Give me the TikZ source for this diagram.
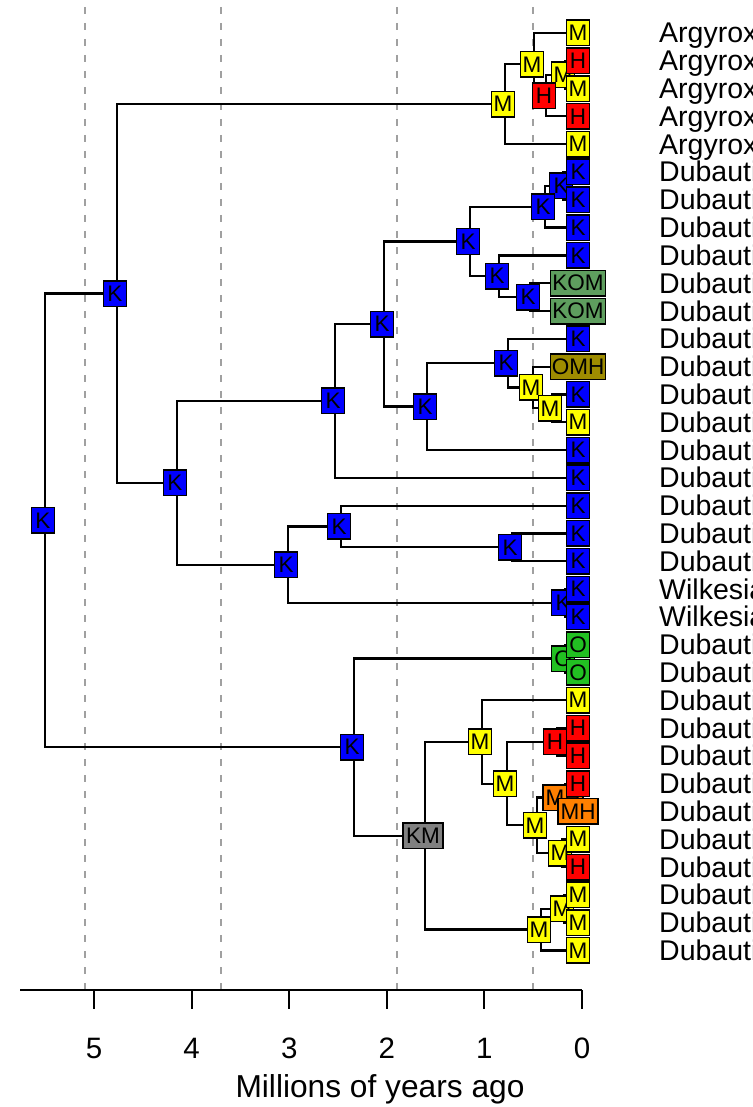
\documentclass[tikz,border=0pt]{standalone}
\usepackage{fontspec}
\setmainfont{Liberation Sans}
\definecolor{cK}{RGB}{0,0,255}
\definecolor{cM}{RGB}{255,255,0}
\definecolor{cH}{RGB}{255,0,0}
\definecolor{cO}{RGB}{34,192,34}
\definecolor{cKOM}{RGB}{94,158,94}
\definecolor{cOMH}{RGB}{158,140,0}
\definecolor{cMH}{RGB}{255,128,0}
\definecolor{cKM}{RGB}{128,128,128}
\definecolor{dashgrey}{RGB}{160,160,160}
\newcommand\stfont{\fontsize{22.5}{23}\selectfont}
\newcommand\namefont{\fontsize{28.5}{30}\selectfont}
\newcommand\axfont{\fontsize{29.5}{30}\selectfont}
\newcommand\titlefont{\fontsize{31.7}{33}\selectfont}
\begin{document}
\begin{tikzpicture}[x=1pt,y=-1pt,
  edge/.style={line width=2.2pt, line cap=round, line join=miter},
  stbox/.style={draw=black, line width=1.5pt, inner sep=0pt,
    minimum height=25.5pt, font=\stfont, text=black},
  island/.style={dashgrey, line width=2pt, dash pattern=on 7pt off 9pt, dash phase=9pt},
  axisline/.style={line width=2pt}]
\useasboundingbox (0,0) rectangle (752,1107);

% island ages (Kauai, Oahu, Maui, Hawaii)
\foreach \xx in {85,221,397,533}
  \draw[island] (\xx,0) -- (\xx,990);

% tips
\foreach \i in {0,...,33}
  \coordinate (t\i) at (582,{33+27.8*\i});

% internal nodes
\coordinate (R)   at (45,520.3);
\coordinate (A)   at (117,293.5);
\coordinate (a1)  at (505,104.25);
\coordinate (a2)  at (534,64.3);
\coordinate (a3)  at (546,95.55);
\coordinate (a4)  at (565,74.7);
\coordinate (B)   at (177,482.8);
\coordinate (C)   at (335,400.9);
\coordinate (E)   at (384,324.0);
\coordinate (F)   at (470,241.5);
\coordinate (F1)  at (545,206.75);
\coordinate (F1a) at (563,185.9);
\coordinate (F2)  at (499,276.25);
\coordinate (F3)  at (530,297.1);
\coordinate (G)   at (427,406.55);
\coordinate (H1)  at (508,363.1);
\coordinate (H2)  at (533,387.45);
\coordinate (H3)  at (552,408.3);
\coordinate (D)   at (288,564.7);
\coordinate (D1)  at (341,526.45);
\coordinate (D3)  at (512,547.3);
\coordinate (D2)  at (565,602.9);
\coordinate (L)   at (354,747.1);
\coordinate (O)   at (565,658.5);
\coordinate (KM)  at (425,835.7);
\coordinate (M1)  at (482,741.9);
\coordinate (M2)  at (507,783.6);
\coordinate (Hn)  at (557,741.9);
\coordinate (M3)  at (537,825.3);
\coordinate (Or)  at (565,797.5);
\coordinate (M4)  at (562,853.1);
\coordinate (M5)  at (541,929.55);
\coordinate (M6)  at (564,908.7);

% branches
\foreach \p/\c in {R/A, R/L, A/a1, A/B, a1/a2, a1/t4, a2/t0, a2/a3, a3/a4, a3/t3,
    a4/t1, a4/t2, B/C, B/D, C/E, C/t16, E/F, E/G, F/F1, F/F2, F1/F1a, F1/t7,
    F1a/t5, F1a/t6, F2/t8, F2/F3, F3/t9, F3/t10, G/H1, G/t15, H1/t11, H1/H2,
    H2/t12, H2/H3, H3/t13, H3/t14, D/D1, D/D2, D1/t17, D1/D3, D3/t18, D3/t19,
    D2/t20, D2/t21, L/O, L/KM, O/t22, O/t23, KM/M1, KM/M5, M1/t24, M1/M2,
    M2/Hn, M2/M3, Hn/t25, Hn/t26, M3/Or, M3/M4, Or/t27, Or/t28, M4/t29, M4/t30,
    M5/M6, M5/t33, M6/t31, M6/t32}
  \draw[edge] (\p) |- (\c);

% ancestral states
\foreach \n/\s/\c/\w in {R/K/cK/23pt, A/K/cK/23pt, a1/M/cM/23pt, a2/M/cM/23pt,
    a4/M/cM/23pt, a3/H/cH/23pt, B/K/cK/23pt, C/K/cK/23pt, E/K/cK/23pt,
    F/K/cK/23pt, F1a/K/cK/23pt, F1/K/cK/23pt, F2/K/cK/23pt, F3/K/cK/23pt,
    G/K/cK/23pt, H1/K/cK/23pt, H2/M/cM/23pt, H3/M/cM/23pt, D/K/cK/23pt,
    D1/K/cK/23pt, D3/K/cK/23pt, D2/K/cK/23pt, L/K/cK/23pt, O/O/cO/23pt,
    KM/KM/cKM/40pt, M1/M/cM/23pt, M2/M/cM/23pt, Hn/H/cH/23pt, M3/M/cM/23pt,
    Or/MH/cMH/40pt, M4/M/cM/23pt, M6/M/cM/23pt, M5/M/cM/23pt}
  \node[stbox, fill=\c, minimum width=\w] (b\n) at ([xshift=-2pt]\n) {\s};

% tip states
\foreach \s/\c/\w [count=\i from 0] in {M/cM/23pt, H/cH/23pt, M/cM/23pt,
    H/cH/23pt, M/cM/23pt, K/cK/23pt, K/cK/23pt, K/cK/23pt, K/cK/23pt,
    KOM/cKOM/55pt, KOM/cKOM/55pt, K/cK/23pt, OMH/cOMH/55pt, K/cK/23pt,
    M/cM/23pt, K/cK/23pt, K/cK/23pt, K/cK/23pt, K/cK/23pt, K/cK/23pt,
    K/cK/23pt, K/cK/23pt, O/cO/23pt, O/cO/23pt, M/cM/23pt, H/cH/23pt,
    H/cH/23pt, H/cH/23pt, MH/cMH/40pt, M/cM/23pt, H/cH/23pt, M/cM/23pt,
    M/cM/23pt, M/cM/23pt}
  \node[stbox, fill=\c, minimum width=\w] (tb\i) at ([xshift=-4pt]t\i) {\s};

% taxon names, running off the right edge
\begin{scope}
\clip (0,0) rectangle (752,1107);
\foreach \nm [count=\i from 0] in {Argyroxiphium, Argyroxiphium, Argyroxiphium,
    Argyroxiphium, Argyroxiphium, Dubautia, Dubautia, Dubautia, Dubautia,
    Dubautia, Dubautia, Dubautia, Dubautia, Dubautia, Dubautia, Dubautia,
    Dubautia, Dubautia, Dubautia, Dubautia, Wilkesia, Wilkesia, Dubautia,
    Dubautia, Dubautia, Dubautia, Dubautia, Dubautia, Dubautia, Dubautia,
    Dubautia, Dubautia, Dubautia, Dubautia}
  \node[anchor=base west, inner sep=0pt, font=\namefont] (nm\i)
    at (659,{43+27.8*\i}) {\nm};
\end{scope}

% time axis
\coordinate (axL) at (20,990);
\coordinate (axR) at (582,990);
\draw[axisline] (axL) -- (axR);
\foreach \t in {0,...,5} {
  \draw[axisline] ({582-97.6*\t},990) -- ++(0,19);
  \node[anchor=base, inner sep=0pt, font=\axfont] (tick\t)
    at ({582-97.6*\t},1058) {\t};
}
\node[anchor=base, inner sep=0pt, font=\titlefont] (xlab) at (380,1097)
  {Millions of years ago};
\end{tikzpicture}
\end{document}
